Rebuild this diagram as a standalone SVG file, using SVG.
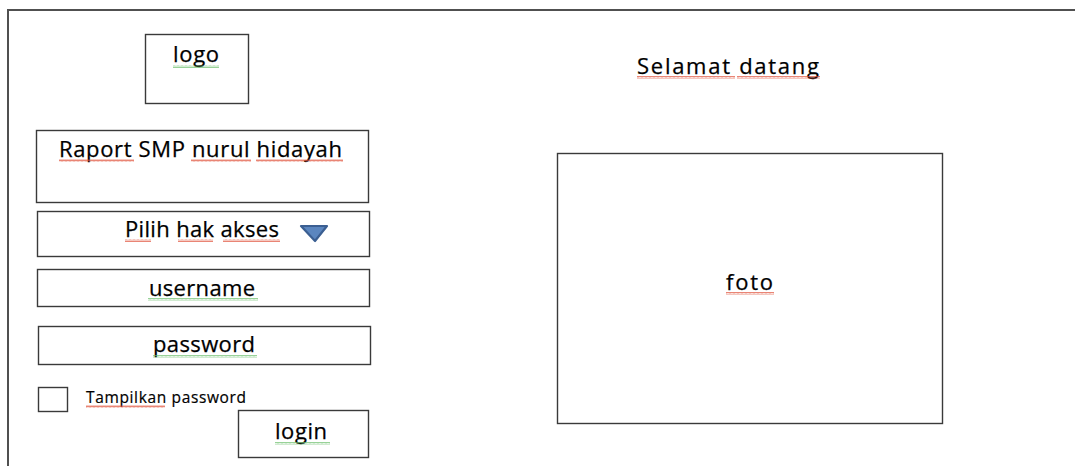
<svg xmlns="http://www.w3.org/2000/svg" width="1075" height="466" viewBox="0 0 1075 466">
<style>
.box{fill:#fff;stroke:#3a3a3a;stroke-width:1.4}
.t{font-family:"Open Sans","Liberation Sans",sans-serif;fill:#000;font-size:22px;stroke:#000;stroke-width:0.25}
.ts{font-family:"Open Sans","Liberation Sans",sans-serif;fill:#000;font-size:15.5px;stroke:#000;stroke-width:0.2}
.red{fill:url(#sqRed)}
.green{fill:url(#sqGreen)}
</style>
<defs>
<pattern id="sqRed" width="4" height="3" patternUnits="userSpaceOnUse">
<path d="M0,2.5 L1,0.5 L2,2.5 L3,0.5 L4,2.5" fill="none" stroke="#e0503a" stroke-width="0.7"/>
</pattern>
<pattern id="sqGreen" width="4" height="3" patternUnits="userSpaceOnUse">
<path d="M0,2.5 L1,0.5 L2,2.5 L3,0.5 L4,2.5" fill="none" stroke="#6cbf6c" stroke-width="0.7"/>
</pattern>
</defs>
<rect width="1075" height="466" fill="#fff"/>
<g id="frame">
<path d="M8,466 V10 H1075" fill="none" stroke="#505050" stroke-width="2"/>
</g>
<g id="logo">
<rect class="box" x="145.5" y="34.5" width="103" height="69"/>
<text class="t" x="173" y="62" textLength="46">logo</text>
<rect class="green" x="173" y="65" width="46" height="3"/>
</g>
<g id="judul">
<rect class="box" x="36.5" y="130.5" width="332" height="72"/>
<text class="t" x="59" y="157" textLength="283">Raport SMP nurul hidayah</text>
<rect class="red" x="59" y="159" width="75" height="3"/>
<rect class="red" x="191" y="159" width="60" height="3"/>
<rect class="red" x="256" y="159" width="87" height="3"/>
</g>
<g id="hak-akses">
<rect class="box" x="37.5" y="211.5" width="332" height="45"/>
<text class="t" x="125" y="237" textLength="154">Pilih hak akses</text>
<rect class="red" x="125" y="239" width="26" height="3"/>
<rect class="red" x="178" y="239" width="35" height="3"/>
<rect class="red" x="223" y="239" width="57" height="3"/>
<path d="M301,226 H327 L315,241 Z" fill="#5b86bf" stroke="#3b5f92" stroke-width="2.2" stroke-linejoin="round"/>
</g>
<g id="username">
<rect class="box" x="37.5" y="269.5" width="332" height="37"/>
<text class="t" x="149" y="296" textLength="106">username</text>
<rect class="green" x="148" y="298" width="110" height="3"/>
</g>
<g id="password">
<rect class="box" x="38.5" y="326.5" width="332" height="38"/>
<text class="t" x="153" y="352" textLength="102">password</text>
<rect class="green" x="153" y="355" width="104" height="3"/>
</g>
<g id="tampilkan">
<rect class="box" x="38.5" y="387.5" width="29" height="24"/>
<text class="ts" x="86" y="403" textLength="160">Tampilkan password</text>
<rect class="red" x="86" y="405" width="79" height="3"/>
</g>
<g id="login">
<rect class="box" x="238.5" y="410.5" width="130" height="47"/>
<text class="t" x="275" y="439" textLength="52">login</text>
<rect class="green" x="275" y="442" width="55" height="3"/>
</g>
<g id="selamat">
<text class="t" x="637" y="74" font-size="24" textLength="182">Selamat datang</text>
<rect class="red" x="637" y="76" width="98" height="3"/>
<rect class="red" x="737" y="76" width="83" height="3"/>
</g>
<g id="foto">
<rect class="box" x="557.5" y="153.5" width="385" height="270"/>
<text class="t" x="726" y="290" font-size="23" textLength="47">foto</text>
<rect class="red" x="726" y="292" width="48" height="3"/>
</g>
<g id="connectors"></g>
</svg>
